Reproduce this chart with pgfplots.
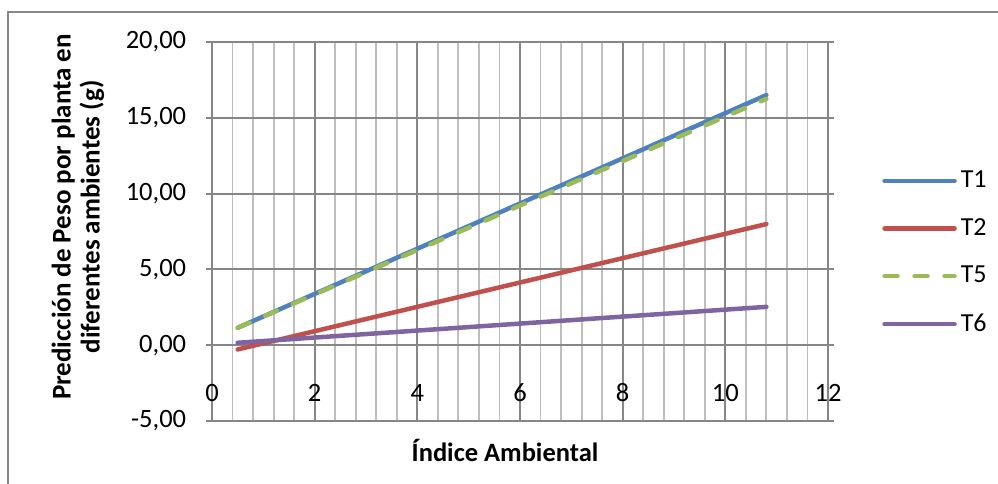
\documentclass[border=0pt]{standalone}
\usepackage{fontspec}
\setmainfont{Carlito}
\usepackage{pgfplots}
\pgfplotsset{compat=1.18}
\definecolor{majgrid}{RGB}{134,134,134}
\definecolor{mingrid}{RGB}{190,190,190}
\definecolor{cT1}{RGB}{79,129,189}
\definecolor{cT2}{RGB}{192,80,77}
\definecolor{cT5}{RGB}{155,187,89}
\definecolor{cT6}{RGB}{128,100,162}
\begin{document}
\fontsize{26}{28}\selectfont
\begin{tikzpicture}[x=1pt,y=1pt]
\useasboundingbox (0,0) rectangle (998,-483);
\draw[color=majgrid, line width=1.8pt] (8,-12) rectangle (1020,-500);
\begin{axis}[
  at={(212pt,-421pt)}, anchor=south west,
  scale only axis, width=616pt, height=379pt,
  xmin=0, xmax=12, ymin=-5, ymax=20,
  xtick={0,2,...,12}, minor x tick num=4,
  ytick={-5,0,5,10,15,20},
  grid=both,
  major grid style={draw=majgrid, line width=1.9pt},
  minor grid style={draw=mingrid, line width=1.9pt},
  axis line style={draw=majgrid, line width=1.9pt},
  tick label style={font=\fontsize{26.5}{28}\selectfont},
  /pgf/number format/assume math mode=true,
  yticklabel={\pgfmathprintnumber[fixed,fixed zerofill,precision=2,use comma]{\tick}},
  xticklabel={\pgfmathprintnumber{\tick}},
  xticklabel style={anchor=center, yshift=34pt},
  yticklabel style={anchor=east, xshift=-11pt},
  xtick style={draw=none},
  minor tick style={draw=none},
  ytick style={draw=majgrid, line width=1.9pt},
  tick align=outside, major tick length=6pt,
  legend style={at={(rel axis cs:1.083,0.672)}, anchor=north west, draw=none, fill=none,
    font=\fontsize{26}{28}\selectfont, row sep=23pt, nodes={inner xsep=4pt}},
  legend cell align=left,
  legend image code/.code={\draw[#1] (0pt,0pt) -- (70pt,0pt);},
  every axis plot/.append style={line width=4.5pt, line cap=round},
]
\addplot[cT1] coordinates {(0.5,1.15) (10.8,16.5)};
\addlegendentry{T1}
\addplot[cT2] coordinates {(0.5,-0.28) (10.8,7.99)};
\addlegendentry{T2}
\addplot[cT5, dash pattern=on 13pt off 17pt] coordinates {(0.5,1.15) (10.8,16.25)};
\addlegendentry{T5}
\addplot[cT6] coordinates {(0.5,0.16) (10.8,2.53)};
\addlegendentry{T6}
\end{axis}
\node[font=\fontsize{26.5}{28}\selectfont\bfseries] at (505,-450) {Índice Ambiental};
\node[rotate=90, align=center, font=\fontsize{27}{29}\selectfont\bfseries] at (78,-217)
  {Predicción de Peso por planta en\\diferentes ambientes (g)};
\end{tikzpicture}
\end{document}
